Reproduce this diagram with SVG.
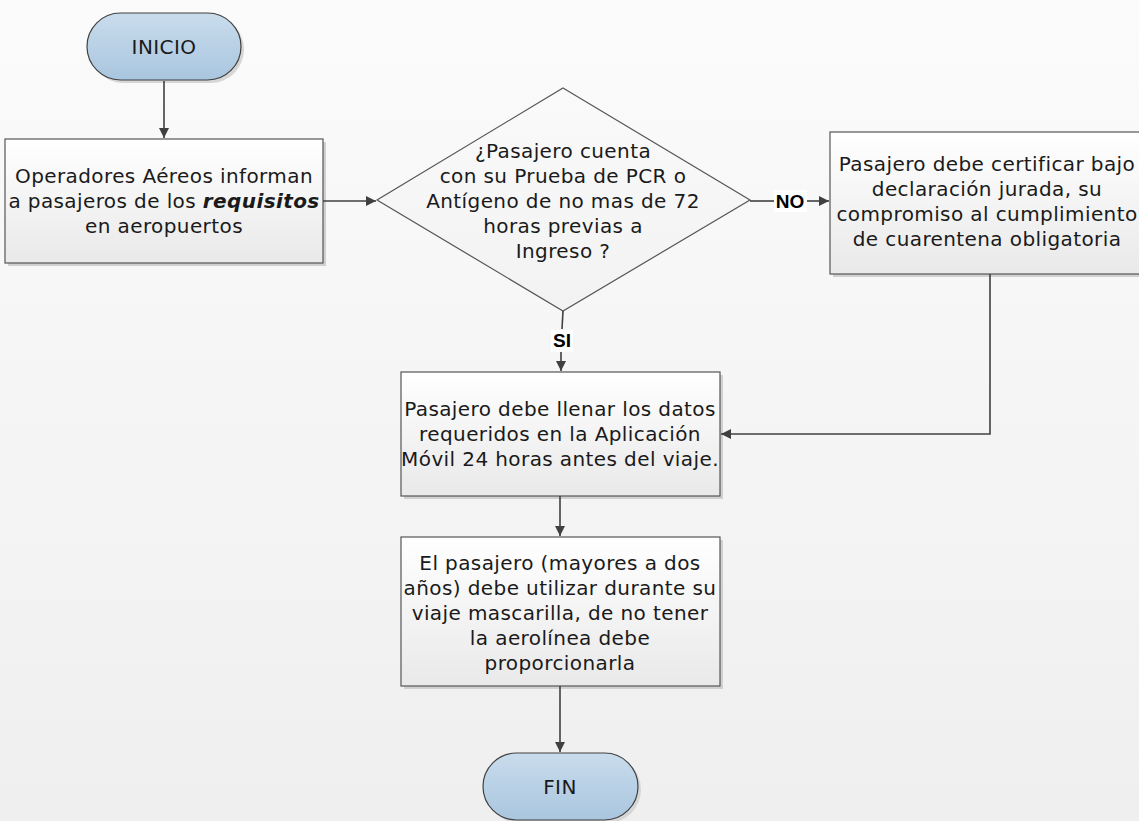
<svg xmlns="http://www.w3.org/2000/svg" width="1139" height="821" viewBox="0 0 1139 821">
<defs>
<linearGradient id="bg" x1="0" y1="0" x2="0" y2="1"><stop offset="0" stop-color="#fbfbfb"/><stop offset="1" stop-color="#efefef"/></linearGradient>
<linearGradient id="term" x1="0" y1="0" x2="0" y2="1"><stop offset="0" stop-color="#c9dcec"/><stop offset="1" stop-color="#a9c6df"/></linearGradient>
<linearGradient id="box" x1="0" y1="0" x2="0" y2="1"><stop offset="0" stop-color="#ffffff"/><stop offset="1" stop-color="#e9e9e9"/></linearGradient>
<linearGradient id="dia" x1="0" y1="0" x2="0" y2="1"><stop offset="0" stop-color="#fafafa"/><stop offset="1" stop-color="#f2f2f2"/></linearGradient>
<marker id="arr" viewBox="0 0 10 10" refX="10" refY="5" markerWidth="10" markerHeight="10" markerUnits="userSpaceOnUse" orient="auto"><path d="M0,0 L10,5 L0,10 Z" fill="#404040"/></marker>
</defs>
<style>
.t{font-family:"DejaVu Sans","Liberation Sans",sans-serif;font-size:20px;letter-spacing:0.4px;fill:#1a1a1a;text-anchor:middle}
.lb{font-family:"Liberation Sans",Arial,sans-serif;font-size:19px;font-weight:bold;fill:#000;text-anchor:middle}
.term{fill:url(#term);stroke:#404040;stroke-width:1.2}
.box{fill:url(#box);stroke:#555;stroke-width:1.2}
.sh{fill:#d0d0d0}
.c{fill:none;stroke:#404040;stroke-width:1.6}
</style>
<rect x="0" y="0" width="1139" height="821" fill="url(#bg)"/>
<g id="inicio">
<rect x="90" y="16" width="154" height="67" rx="33.5" fill="#d6d6d6"/>
<rect class="term" x="87" y="13" width="154" height="67" rx="33.5"/>
<text class="t" x="164" y="54">INICIO</text>
</g>
<g id="operadores">
<rect class="sh" x="8" y="142" width="318" height="124"/>
<rect class="box" x="5" y="139" width="318" height="124"/>
<text class="t" x="164" y="183">Operadores Aéreos informan</text>
<text class="t" x="164" y="208">a pasajeros de los <tspan font-weight="bold" font-style="italic">requisitos</tspan></text>
<text class="t" x="164" y="233">en aeropuertos</text>
</g>
<g id="decision">
<polygon points="563,88 750,200 563,311 377,200" fill="url(#dia)" stroke="#555" stroke-width="1.2"/>
<text class="t" x="563" y="158">¿Pasajero cuenta</text>
<text class="t" x="563" y="183">con su Prueba de PCR o</text>
<text class="t" x="563" y="208">Antígeno de no mas de 72</text>
<text class="t" x="563" y="233">horas previas a</text>
<text class="t" x="563" y="258">Ingreso ?</text>
</g>
<g id="declaracion">
<rect class="sh" x="833" y="135" width="314" height="142"/>
<rect class="box" x="830" y="132" width="314" height="142"/>
<text class="t" x="987" y="171">Pasajero debe certificar bajo</text>
<text class="t" x="987" y="196">declaración jurada, su</text>
<text class="t" x="987" y="221">compromiso al cumplimiento</text>
<text class="t" x="987" y="246">de cuarentena obligatoria</text>
</g>
<g id="aplicacion">
<rect class="sh" x="404" y="375" width="319" height="124"/>
<rect class="box" x="401" y="372" width="319" height="124"/>
<text class="t" x="560" y="416">Pasajero debe llenar los datos</text>
<text class="t" x="560" y="441">requeridos en la Aplicación</text>
<text class="t" x="560" y="466">Móvil 24 horas antes del viaje.</text>
</g>
<g id="mascarilla">
<rect class="sh" x="404" y="540" width="319" height="149"/>
<rect class="box" x="401" y="537" width="319" height="149"/>
<text class="t" x="560" y="570">El pasajero (mayores a dos</text>
<text class="t" x="560" y="595">años) debe utilizar durante su</text>
<text class="t" x="560" y="620">viaje mascarilla, de no tener</text>
<text class="t" x="560" y="645">la aerolínea debe</text>
<text class="t" x="560" y="670">proporcionarla</text>
</g>
<g id="fin">
<rect x="486" y="756" width="155" height="67" rx="33.5" fill="#d6d6d6"/>
<rect class="term" x="483" y="753" width="155" height="67" rx="33.5"/>
<text class="t" x="560" y="794">FIN</text>
</g>
<g id="connectors">
<line class="c" x1="164" y1="81" x2="164" y2="138" marker-end="url(#arr)"/>
<line class="c" x1="323" y1="201" x2="376" y2="201" marker-end="url(#arr)"/>
<line class="c" x1="750" y1="201" x2="774" y2="201"/>
<line class="c" x1="807" y1="201" x2="829" y2="201" marker-end="url(#arr)"/>
<rect x="774" y="190" width="33" height="22" fill="#ffffff"/>
<text class="lb" x="790" y="208">NO</text>
<line class="c" x1="563" y1="311" x2="562" y2="329"/>
<rect x="551" y="330" width="22" height="22" fill="#ffffff"/>
<text class="lb" x="562" y="347">SI</text>
<line class="c" x1="561" y1="352" x2="561" y2="371" marker-end="url(#arr)"/>
<polyline class="c" points="990,274 990,434 721,434" marker-end="url(#arr)"/>
<line class="c" x1="560" y1="496" x2="560" y2="536" marker-end="url(#arr)"/>
<line class="c" x1="560" y1="686" x2="560" y2="752" marker-end="url(#arr)"/>
</g>
</svg>
